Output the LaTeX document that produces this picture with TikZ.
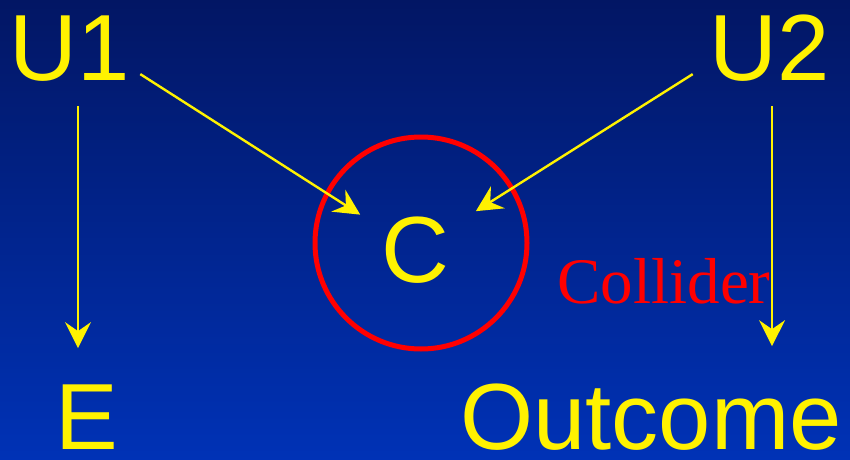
\documentclass[tikz,border=0pt]{standalone}
\usepackage{fontspec}
\setmainfont{Liberation Sans}
\newfontfamily\tagface{Liberation Serif}
\usetikzlibrary{arrows.meta,shapes,positioning}
\definecolor{navytop}{RGB}{2,22,100}
\definecolor{navybot}{RGB}{0,50,182}

\begin{document}
\begin{tikzpicture}[x=1pt,y=1pt]
   \tikzstyle{var}=[text=yellow,inner sep=0pt,anchor=base,font=\fontsize{94}{94}\selectfont]
   \tikzstyle{tag}=[text=red,inner sep=0pt,anchor=base,font=\tagface\fontsize{65}{65}\selectfont]
   \tikzstyle{ring}=[draw=red,circle,line width=5pt,minimum size=212pt,inner sep=0pt]
   \tikzstyle{ar}=[yellow,line width=2.4pt,-{Stealth[length=26pt,width=26pt,inset=9pt]}]

   \shade[top color=navytop,bottom color=navybot] (0,0) rectangle (850,459);
   \useasboundingbox (0,0) rectangle (850,459);

   \node (u1) [var] at (70,379) {U1};
   \node (u2) [var] at (770,379) {U2};
   \node (c) [var] at (415,177) {C};
   \node (e) [var] at (87,10) {E};
   \node (out) [var] at (651,10) {Outcome};
   \node (coll) [ring] at (421,216) {};
   \node (lbl) [tag] at (664,156) {Collider};

   \coordinate (u1s) at ([shift={(8pt,-25pt)}]u1.south);
   \coordinate (u2s) at ([shift={(2pt,-25pt)}]u2.south);

   \draw [ar,shorten >=65pt] ([shift={(10pt,7pt)}]u1.south east) -- (c.center);
   \draw [ar,shorten >=72pt] ([shift={(-17pt,7pt)}]u2.south west) -- (c.center);
   \draw [ar,shorten >=36pt] (u1s) -- (u1s |- e.north);
   \draw [ar,shorten >=37pt] (u2s) -- (u2s |- out.north);
\end{tikzpicture}
\end{document}
